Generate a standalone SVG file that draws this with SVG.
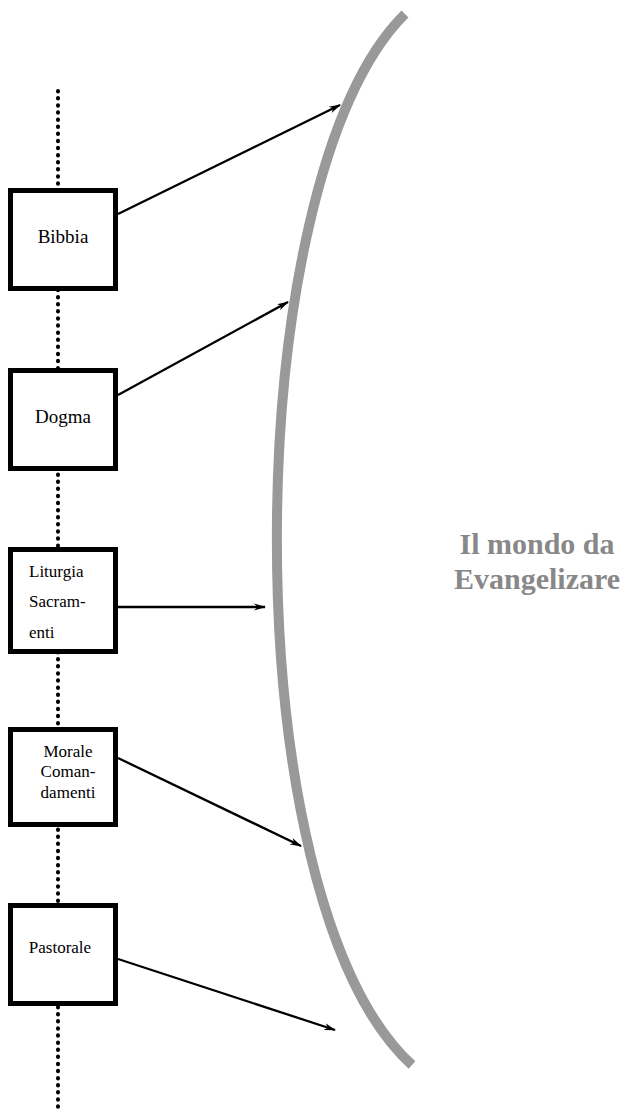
<svg xmlns="http://www.w3.org/2000/svg" width="628" height="1116" viewBox="0 0 628 1116">
<defs>
<style>
.box{fill:#fff;stroke:#000;stroke-width:5}
.lbl{font-family:"Liberation Serif","Times New Roman",serif;fill:#000}
.conn{stroke:#000;stroke-width:2.3;fill:none;marker-end:url(#ah)}
.title{font-family:"Liberation Serif","Times New Roman",serif;font-weight:bold;font-size:30px;fill:#888;text-anchor:middle}
</style>
<marker id="ah" markerWidth="12" markerHeight="8" refX="11" refY="4" orient="auto" markerUnits="userSpaceOnUse">
<path d="M0,0.5 L12,4 L0,7.5 L3.5,4 z" fill="#000"/>
</marker>
</defs>
<rect width="628" height="1116" fill="#fff"/>
<path id="world" d="M405,14 C236,180 230,900 412,1065" fill="none" stroke="#999" stroke-width="10"/>
<line id="axis" x1="58" y1="91" x2="58" y2="1113" stroke="#000" stroke-width="4" stroke-linecap="round" stroke-dasharray="0.5 6.6"/>
<g id="connectors">
<line class="conn" x1="118" y1="214" x2="340" y2="105"/>
<line class="conn" x1="118" y1="395" x2="288" y2="302"/>
<line class="conn" x1="118" y1="607" x2="265" y2="607"/>
<line class="conn" x1="118" y1="758" x2="301" y2="846"/>
<line class="conn" x1="118" y1="959" x2="335" y2="1030"/>
</g>
<g id="bibbia">
<rect class="box" x="10.5" y="190.5" width="105" height="98"/>
<text class="lbl" x="63" y="243" font-size="19" text-anchor="middle">Bibbia</text>
</g>
<g id="dogma">
<rect class="box" x="10.5" y="370.5" width="105" height="98"/>
<text class="lbl" x="63" y="423" font-size="19" text-anchor="middle">Dogma</text>
</g>
<g id="liturgia">
<rect class="box" x="10.5" y="549.5" width="105" height="102"/>
<text class="lbl" x="29" y="577" font-size="17">Liturgia</text>
<text class="lbl" x="29" y="607" font-size="17">Sacram-</text>
<text class="lbl" x="29" y="638" font-size="17">enti</text>
</g>
<g id="morale">
<rect class="box" x="10.5" y="729.5" width="105" height="95"/>
<text class="lbl" x="68" y="757" font-size="17" text-anchor="middle">Morale</text>
<text class="lbl" x="68" y="777" font-size="17" text-anchor="middle">Coman-</text>
<text class="lbl" x="68" y="798" font-size="17" text-anchor="middle">damenti</text>
</g>
<g id="pastorale">
<rect class="box" x="10.5" y="905.5" width="105" height="98"/>
<text class="lbl" x="60" y="953" font-size="17" text-anchor="middle">Pastorale</text>
</g>
<g id="title">
<text class="title" x="537" y="554">Il mondo da</text>
<text class="title" x="537" y="589">Evangelizare</text>
</g>
</svg>
